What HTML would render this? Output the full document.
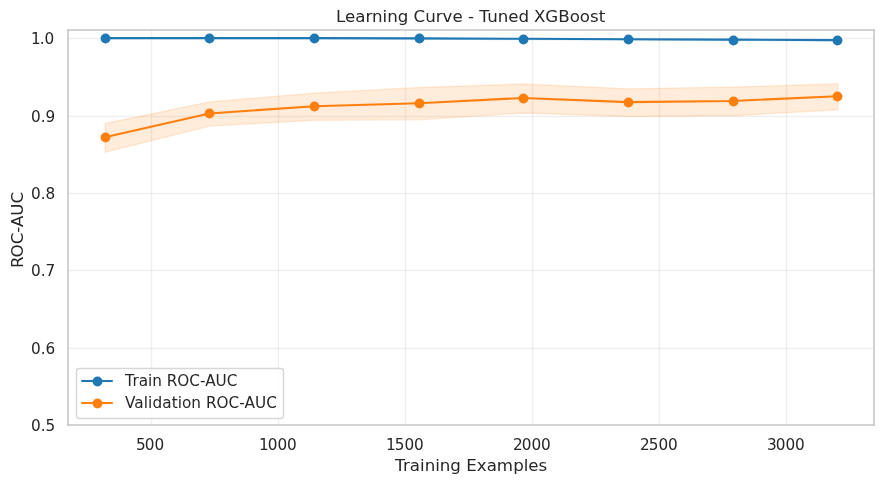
<!DOCTYPE html>
<html lang="en">
<head>
<meta charset="utf-8">
<title>Learning Curve - Tuned XGBoost</title>
<style>
html,body{margin:0;padding:0;background:#ffffff;}
body{width:884px;height:484px;overflow:hidden;}
svg{display:block;}
</style>
</head>
<body>
<svg width="884" height="484" viewBox="0 0 884 484">
<rect x="0" y="0" width="884" height="484" fill="#ffffff"/>
<g fill="#cccccc" shape-rendering="crispEdges">
<rect x="150" y="30" width="1" height="395" fill-opacity="0.06"/><rect x="151" y="30" width="1" height="395" fill-opacity="0.31"/><rect x="152" y="30" width="1" height="395" fill-opacity="0.06"/>
<rect x="277" y="30" width="1" height="395" fill-opacity="0.06"/><rect x="278" y="30" width="1" height="395" fill-opacity="0.31"/><rect x="279" y="30" width="1" height="395" fill-opacity="0.06"/>
<rect x="404" y="30" width="1" height="395" fill-opacity="0.06"/><rect x="405" y="30" width="1" height="395" fill-opacity="0.31"/><rect x="406" y="30" width="1" height="395" fill-opacity="0.06"/>
<rect x="531" y="30" width="1" height="395" fill-opacity="0.06"/><rect x="532" y="30" width="1" height="395" fill-opacity="0.31"/><rect x="533" y="30" width="1" height="395" fill-opacity="0.06"/>
<rect x="658" y="30" width="1" height="395" fill-opacity="0.06"/><rect x="659" y="30" width="1" height="395" fill-opacity="0.31"/><rect x="660" y="30" width="1" height="395" fill-opacity="0.06"/>
<rect x="785" y="30" width="1" height="395" fill-opacity="0.06"/><rect x="786" y="30" width="1" height="395" fill-opacity="0.31"/><rect x="787" y="30" width="1" height="395" fill-opacity="0.06"/>
<rect x="68" y="347" width="806" height="1" fill-opacity="0.06"/><rect x="68" y="348" width="806" height="1" fill-opacity="0.31"/><rect x="68" y="349" width="806" height="1" fill-opacity="0.06"/>
<rect x="68" y="269" width="806" height="1" fill-opacity="0.06"/><rect x="68" y="270" width="806" height="1" fill-opacity="0.31"/><rect x="68" y="271" width="806" height="1" fill-opacity="0.06"/>
<rect x="68" y="192" width="806" height="1" fill-opacity="0.06"/><rect x="68" y="193" width="806" height="1" fill-opacity="0.31"/><rect x="68" y="194" width="806" height="1" fill-opacity="0.06"/>
<rect x="68" y="115" width="806" height="1" fill-opacity="0.06"/><rect x="68" y="116" width="806" height="1" fill-opacity="0.31"/><rect x="68" y="117" width="806" height="1" fill-opacity="0.06"/>
<rect x="68" y="37" width="806" height="1" fill-opacity="0.06"/><rect x="68" y="38" width="806" height="1" fill-opacity="0.31"/><rect x="68" y="39" width="806" height="1" fill-opacity="0.06"/>
</g>
<clipPath id="c"><rect x="68.15" y="30.35" width="805.85" height="395"/></clipPath>
<g clip-path="url(#c)">
<path d="M105.28 38.518L209.826 38.518L314.373 38.44L419.174 38.673L523.721 38.905L628.522 39.292L733.069 39.757L837.87 40.222L837.87 40.996L733.069 40.531L628.522 40.067L523.721 39.525L419.174 39.137L314.373 38.75L209.826 38.673L105.28 38.673Z" fill="#1f77b4" fill-opacity="0.15" stroke="#1f77b4" stroke-opacity="0.15" stroke-width="1.389" stroke-linejoin="miter"/>
<path d="M105.28 123.52L209.826 101.834L314.373 93.121L419.174 87.544L523.721 84.02L628.522 88.861L733.069 87.079L837.87 83.826L837.87 109.773L733.069 115.775L628.522 116.433L523.721 112.948L419.174 119.841L314.373 120.228L209.826 126.115L105.28 152.138Z" fill="#ff7f0e" fill-opacity="0.15" stroke="#ff7f0e" stroke-opacity="0.15" stroke-width="1.389" stroke-linejoin="miter"/>
<path d="M104.78 38.095L209.326 38.095L313.873 38.095L418.674 38.405L523.221 38.715L628.022 39.179L732.569 39.644L837.37 40.109" fill="none" stroke="#1f77b4" stroke-width="2.083" stroke-linejoin="round" stroke-linecap="round"/><circle cx="105.5" cy="38.5" r="4.92" fill="#1f77b4"/><circle cx="209.5" cy="38.5" r="4.92" fill="#1f77b4"/><circle cx="314.5" cy="38.5" r="4.92" fill="#1f77b4"/><circle cx="419.5" cy="38.5" r="4.92" fill="#1f77b4"/><circle cx="523.5" cy="39.5" r="4.92" fill="#1f77b4"/><circle cx="628.5" cy="39.5" r="4.92" fill="#1f77b4"/><circle cx="733.5" cy="40.5" r="4.92" fill="#1f77b4"/><circle cx="837.5" cy="40.5" r="4.92" fill="#1f77b4"/>
<path d="M104.78 137.333L209.326 113.47L313.873 106.175L418.674 103.193L523.221 97.98L628.022 102.147L732.569 100.931L837.37 96.3" fill="none" stroke="#ff7f0e" stroke-width="2.083" stroke-linejoin="round" stroke-linecap="round"/><circle cx="105.5" cy="137.5" r="4.92" fill="#ff7f0e"/><circle cx="209.5" cy="113.5" r="4.92" fill="#ff7f0e"/><circle cx="314.5" cy="106.5" r="4.92" fill="#ff7f0e"/><circle cx="419.5" cy="103.5" r="4.92" fill="#ff7f0e"/><circle cx="523.5" cy="98.5" r="4.92" fill="#ff7f0e"/><circle cx="628.5" cy="102.5" r="4.92" fill="#ff7f0e"/><circle cx="733.5" cy="101.5" r="4.92" fill="#ff7f0e"/><circle cx="837.5" cy="96.5" r="4.92" fill="#ff7f0e"/>
</g>
<g fill="#cccccc" fill-opacity="0.875" shape-rendering="crispEdges">
<rect x="67" y="29" width="2" height="397"/>
<rect x="873" y="29" width="2" height="397"/>
<rect x="67" y="424" width="808" height="2"/>
<rect x="67" y="29" width="808" height="2"/>
</g>
<rect x="76.5" y="368.5" width="207" height="50" rx="3.06" ry="3.06" fill="#ffffff" fill-opacity="0.8" stroke="#cccccc" stroke-opacity="0.8" stroke-width="1.389"/>
<path d="M81.23 381H112.77" fill="none" stroke="#1f77b4" stroke-width="2.083"/>
<circle cx="97.5" cy="381.5" r="4.92" fill="#1f77b4"/>
<path d="M81.23 403H112.77" fill="none" stroke="#ff7f0e" stroke-width="2.083"/>
<circle cx="97.5" cy="403.5" r="4.92" fill="#ff7f0e"/>
<g fill="#262626" font-family="'DejaVu Sans', 'Liberation Sans', sans-serif" style="">
<text x="136 144.7 154.41" y="450" font-size="15.278">500</text>
<text x="259 267.7 277.41 287.11" y="450" font-size="15.278">1000</text>
<text x="386 394.7 404.41 414.11" y="450" font-size="15.278">1500</text>
<text x="513 521.7 531.41 541.11" y="450" font-size="15.278">2000</text>
<text x="640 648.7 658.41 668.11" y="450" font-size="15.278">2500</text>
<text x="767 775.7 785.41 795.11" y="450" font-size="15.278">3000</text>
<text x="31 40.7 45.55" y="431" font-size="15.278">0.5</text>
<text x="31 40.7 45.55" y="354" font-size="15.278">0.6</text>
<text x="31 40.7 45.55" y="276" font-size="15.278">0.7</text>
<text x="31 40.7 45.55" y="199" font-size="15.278">0.8</text>
<text x="31 40.7 45.55" y="122" font-size="15.278">0.9</text>
<text x="31 39.7 44.55" y="44" font-size="15.278">1.0</text>
<text x="395 403.01 409.85 420.04 424.66 435.19 439.82 450.35 460.9 466.33 476.83 486.67 496.86 513.16 523.71 528.33 538.57" y="471" font-size="16.667">Training Examples</text>
<text x="336 345.02 355.25 365.44 372.03 382.56 387.19 397.72 408.27 413.55 425.16 435.69 442.53 452.38 462.61 467.89 473.89 479.17 487.18 497.71 508.24 518.48 529.02 533.95 545.34 558.23 569.64 579.81 589.98 598.64" y="22" font-size="16.667">Learning Curve - Tuned XGBoost</text>
<text x="125 132.41 138.68 148.02 152.26 161.93 166.77 177.37 189.37 200.02 205.15 215.58 226.74" y="386" font-size="15.278">Train ROC-AUC</text>
<text x="125 134.31 143.76 148.04 152.43 162.26 171.66 177.69 181.97 191.35 201.07 206.02 216.61 228.61 239.27 244.49 254.93 266.19" y="408" font-size="15.278">Validation ROC-AUC</text>
<text transform="translate(22.64 229.95) rotate(-90)" x="-38 -27.45 -14.36 -2.75 2.88 14.25 26.42" y="0" font-size="16.667">ROC-AUC</text>
</g>
</svg>
</body>
</html>
